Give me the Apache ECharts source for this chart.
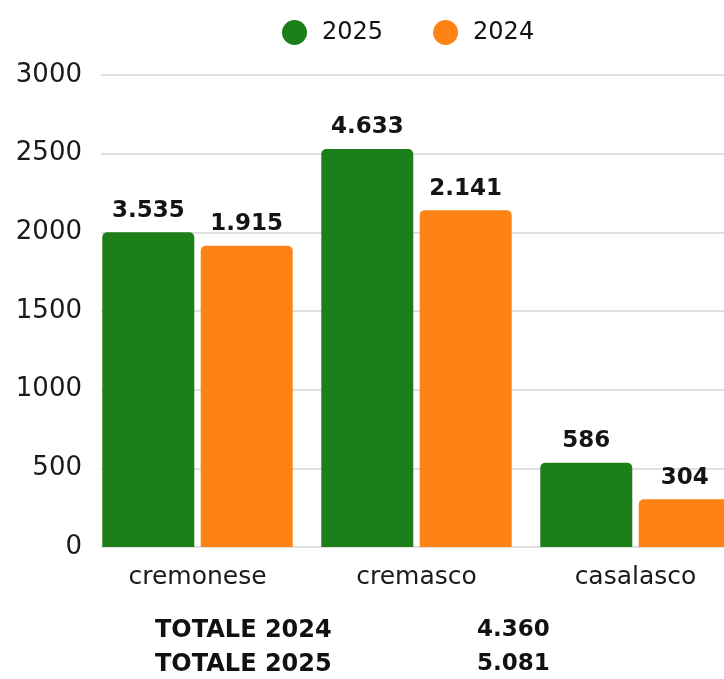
<!DOCTYPE html>
<html><head><meta charset="utf-8">
<script src="https://cdn.jsdelivr.net/npm/echarts@6/dist/echarts.min.js"></script>
<style>html,body{margin:0;padding:0;background:#fff}#c{width:724px;height:679px}</style>
</head><body><div id="c"></div>
<script>
const categories = ['cremonese', 'cremasco', 'casalasco'];
const series2025 = [2000, 2530, 535];
const series2024 = [1915, 2141, 304];
const labels2025 = ['3.535', '4.633', '586'];
const labels2024 = ['1.915', '2.141', '304'];
const totalNames = ['TOTALE 2024', 'TOTALE 2025'];
const totalValues = ['4.360', '5.081'];

const GREEN = '#1d7f19';
const ORANGE = '#fd8317';
const chart = echarts.init(document.getElementById('c'));

const labelStyle = {
  show: true, position: 'top', distance: 10,
  fontFamily: 'DejaVu Sans', fontWeight: 'bold', fontSize: 23, color: '#141414'
};

const graphics = [];
totalNames.forEach((n, i) => {
  graphics.push({ type: 'text', left: 155, top: 619 + i * 34,
    style: { text: n, font: 'bold 24px "DejaVu Sans"', fill: '#111' } });
  graphics.push({ type: 'text', left: 477, top: 619 + i * 34,
    style: { text: totalValues[i], font: 'bold 23px "DejaVu Sans"', fill: '#111' } });
});

chart.setOption({
  animation: false,
  backgroundColor: '#fff',
  legend: {
    data: ['2025', '2024'], left: 277, top: 15, icon: 'circle',
    itemWidth: 25, itemHeight: 25, itemGap: 50,
    textStyle: { fontFamily: 'DejaVu Sans', fontSize: 24, color: '#111', padding: [0, 0, 0, 10] }
  },
  grid: [
    { left: 101, right: 0, top: 75, bottom: 132, outerBoundsMode: 'none' },
    { left: 88, width: 657, top: 75, bottom: 132, outerBoundsMode: 'none' }
  ],
  xAxis: [
    { gridIndex: 0, type: 'category', data: categories, axisLine: { show: false },
      axisTick: { show: false }, axisLabel: { show: false } },
    { gridIndex: 1, type: 'category', data: categories, axisLine: { show: false },
      axisTick: { show: false },
      axisLabel: { margin: 18, fontFamily: 'DejaVu Sans', fontSize: 25, color: '#1a1a1a' } }
  ],
  yAxis: [
    { gridIndex: 0, type: 'value', min: 0, max: 3000, interval: 500,
      axisLine: { show: false }, axisTick: { show: false },
      splitLine: { lineStyle: { color: '#d6d6d6', width: 1.5 } },
      axisLabel: { margin: 19, fontFamily: 'DejaVu Sans', fontSize: 26, color: '#1a1a1a',
        formatter: v => String(v) } },
    { gridIndex: 1, type: 'value', min: 0, max: 3000, interval: 500, show: false,
      splitLine: { show: false } }
  ],
  series: [
    { name: '2025', type: 'bar', xAxisIndex: 1, yAxisIndex: 1, data: series2025,
      barWidth: 92, barGap: '7%', itemStyle: { color: GREEN, borderRadius: [5, 5, 0, 0] },
      label: Object.assign({}, labelStyle, { formatter: p => labels2025[p.dataIndex] }) },
    { name: '2024', type: 'bar', xAxisIndex: 1, yAxisIndex: 1, data: series2024,
      barWidth: 92, barGap: '7%', itemStyle: { color: ORANGE, borderRadius: [5, 5, 0, 0] },
      label: Object.assign({}, labelStyle, { formatter: p => labels2024[p.dataIndex] }) }
  ],
  graphic: graphics
});
</script></body></html>
